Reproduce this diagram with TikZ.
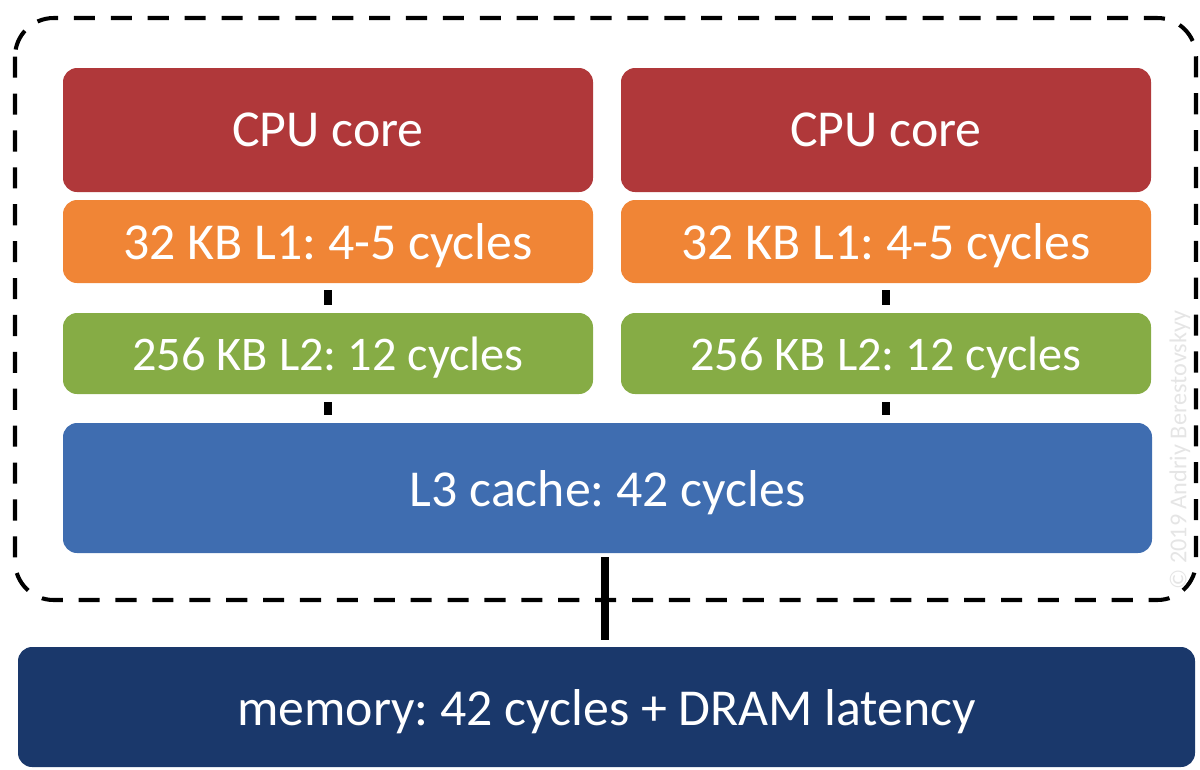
\documentclass[tikz,border=0pt]{standalone}
\usepackage{fontspec}
\setmainfont{Carlito}
\frenchspacing
\definecolor{cpured}{HTML}{B0383A}
\definecolor{lone}{HTML}{F08536}
\definecolor{ltwo}{HTML}{86AC45}
\definecolor{lthree}{HTML}{3F6DB0}
\definecolor{memblue}{HTML}{1A386B}
\def\u{0.02cm}
\tikzset{
  blk/.style={rectangle, rounded corners=8pt, inner sep=0pt, text=white, text depth=0pt,
    font=\fontsize{29.5}{34}\selectfont},
  cache/.style={blk, font=\fontsize{27.5}{32}\selectfont},
  link/.style={line width=5pt, draw=black},
}
\begin{document}
\begin{tikzpicture}[x=0.02cm,y=-0.02cm]
\useasboundingbox (0,0) rectangle (1200,769);
\draw[line width=2.3pt, dash pattern=on 12pt off 9pt, rounded corners=22pt] (15,18) rectangle (1196,600);
\node[blk, fill=cpured, minimum width={530*\u}, minimum height={124*\u}] (cpua) at (328,130) {CPU core};
\node[blk, fill=cpured, minimum width={530*\u}, minimum height={124*\u}] (cpub) at (886,130) {CPU core};
\node[blk, fill=lone, minimum width={530*\u}, minimum height={83*\u}] (lonea) at (328,241.5) {32 KB L1: 4-5 cycles};
\node[blk, fill=lone, minimum width={530*\u}, minimum height={83*\u}] (loneb) at (886,241.5) {32 KB L1: 4-5 cycles};
\node[cache, fill=ltwo, minimum width={530*\u}, minimum height={81*\u}] (ltwoa) at (328,353.5) {256 KB L2: 12 cycles};
\node[cache, fill=ltwo, minimum width={530*\u}, minimum height={81*\u}] (ltwob) at (886,353.5) {256 KB L2: 12 cycles};
\node[blk, fill=lthree, minimum width={1089*\u}, minimum height={130*\u}] (lthree) at (607.5,488) {L3 cache: 42 cycles};
\node[blk, fill=memblue, minimum width={1177*\u}, minimum height={120*\u}] (mem) at (606.5,707) {memory: 42 cycles + DRAM latency};
\draw[link, shorten <=7*\u, shorten >=8*\u] (lonea.south) -- (ltwoa.north);
\draw[link, shorten <=7*\u, shorten >=8*\u] (loneb.south) -- (ltwob.north);
\draw[link, shorten <=8*\u, shorten >=8*\u] (ltwoa.south) -- (ltwoa.south |- lthree.north);
\draw[link, shorten <=8*\u, shorten >=8*\u] (ltwob.south) -- (ltwob.south |- lthree.north);
\draw[link] ([yshift=-4*\u]lthree.south -| 605,0) coordinate (ca) -- ([yshift=7*\u]mem.north -| 605,0) coordinate (cb);
\node[rotate=90, text=black!10, font=\fontsize{13.8}{16}\selectfont] (wm) at (1180,450) {© 2019 Andriy Berestovskyy};
\end{tikzpicture}
\end{document}
